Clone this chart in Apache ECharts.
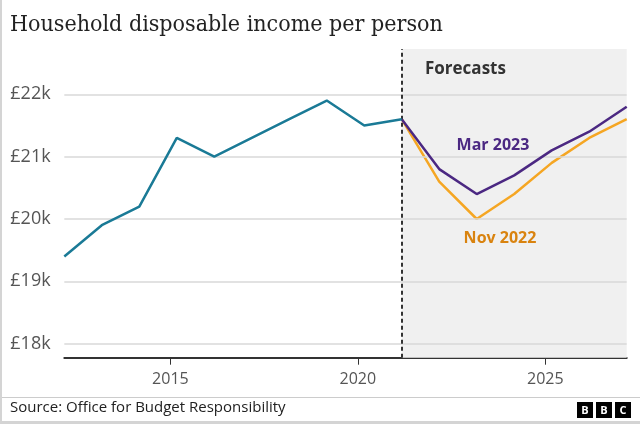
<!DOCTYPE html>
<html>
<head>
<meta charset="utf-8">
<script src="https://cdn.jsdelivr.net/npm/echarts@6/dist/echarts.min.js"></script>
<style>
html,body{margin:0;padding:0;background:#fff;}
#chart{width:640px;height:424px;}
</style>
</head>
<body>
<div id="chart"></div>
<script>
// Data (fiscal-year positions)
var histYears = [2012.17, 2013.17, 2014.17, 2015.17, 2016.17, 2017.17, 2018.17, 2019.17, 2020.17, 2021.17];
var histValues = [19.4, 19.9, 20.2, 21.3, 21.0, 21.3, 21.6, 21.9, 21.5, 21.6];
var fcYears = [2021.17, 2022.17, 2023.17, 2024.17, 2025.17, 2026.17, 2027.17];
var mar2023 = [21.6, 20.8, 20.4, 20.7, 21.1, 21.4, 21.8];
var nov2022 = [21.6, 20.6, 20.0, 20.4, 20.9, 21.3, 21.6];
var xTicks = [2015, 2020, 2025];
var yTicks = [18, 19, 20, 21, 22];
var forecastStart = 2021.17;
var xMin = 2012.17, xMax = 2027.17;
var yMin = 17.776, yMax = 22.726;

function pairs(xs, ys) { return xs.map(function (x, i) { return [x, ys[i]]; }); }

var chart = echarts.init(document.getElementById('chart'), null, {renderer: 'canvas'});
var sans = 'Open Sans';
var option = {
  animation: false,
  backgroundColor: '#ffffff',
  grid: {left: 64.3, right: 13.3, top: 49, bottom: 66.3},
  xAxis: {
    type: 'value', min: xMin, max: xMax,
    axisLine: {show: true, onZero: false, lineStyle: {color: '#333', width: 2}},
    axisTick: {show: true, customValues: xTicks, length: 7, lineStyle: {color: '#333', width: 1}},
    axisLabel: {customValues: xTicks, margin: 14, color: '#555', fontSize: 16, fontFamily: sans,
      formatter: function (v) { return String(v); }},
    splitLine: {show: false}
  },
  yAxis: {
    type: 'value', min: yMin, max: yMax,
    axisLine: {show: false}, axisTick: {show: false},
    axisLabel: {customValues: yTicks, align: 'left', margin: 54, color: '#555', fontSize: 18, fontFamily: sans,
      formatter: function (v) { return '£' + v + 'k'; }},
    splitLine: {show: false}
  },
  series: [
    {
      type: 'line', data: [], z: 1, silent: true,
      markArea: {silent: true, itemStyle: {color: '#f0f0f0'}, data: [[{xAxis: forecastStart}, {xAxis: xMax}]]}
    },
    {
      type: 'line', data: [], z: 2, silent: true,
      markLine: {silent: true, symbol: ['none', 'none'], label: {show: false},
        lineStyle: {color: '#d9d9d9', width: 1.5, type: 'solid'},
        data: yTicks.map(function (v) { return {yAxis: v}; })}
    },
    {
      type: 'line', data: [], z: 3, silent: true,
      markLine: {silent: true, symbol: ['none', 'none'], label: {show: false},
        lineStyle: {color: '#333', width: 2, type: [4, 3]},
        data: [{xAxis: forecastStart}]}
    },
    {
      name: 'Nov 2022', type: 'line', data: pairs(fcYears, nov2022), z: 4,
      showSymbol: false, lineStyle: {color: '#f5a623', width: 2.5}
    },
    {
      name: 'Mar 2023', type: 'line', data: pairs(fcYears, mar2023), z: 5,
      showSymbol: false, lineStyle: {color: '#4b2882', width: 2.5}
    },
    {
      name: 'Actual', type: 'line', data: pairs(histYears, histValues), z: 6,
      showSymbol: false, lineStyle: {color: '#1a7a96', width: 2.5}
    }
  ],
  graphic: [
    {type: 'text', left: 10, top: 14, z: 100, style: {text: 'Household disposable income per person', fill: '#222',
      font: '500 23px "DejaVu Serif Condensed", "Liberation Serif", serif'}},
    {type: 'text', left: 425, top: 61, z: 100, style: {text: 'Forecasts', fill: '#333', font: 'bold 17px "Open Sans"'}},
    {type: 'text', x: 493, y: 145, z: 100, style: {text: 'Mar 2023', fill: '#4b2882', font: 'bold 16px "Open Sans"', align: 'center', verticalAlign: 'middle'}},
    {type: 'text', x: 500, y: 238, z: 100, style: {text: 'Nov 2022', fill: '#d9830f', font: 'bold 16px "Open Sans"', align: 'center', verticalAlign: 'middle'}},
    {type: 'rect', z: 100, shape: {x: 0, y: 397, width: 640, height: 1}, style: {fill: '#cccccc'}},
    {type: 'text', left: 10, top: 400, z: 100, style: {text: 'Source: Office for Budget Responsibility', fill: '#222', font: '15px "Open Sans"'}},
    {type: 'rect', z: 100, shape: {x: 0, y: 0, width: 2, height: 424}, style: {fill: '#d4d4d4'}},
    {type: 'rect', z: 100, shape: {x: 0, y: 421, width: 640, height: 3}, style: {fill: '#d4d4d4'}},
    {type: 'group', left: 577, top: 402, z: 100, children: [
      {type: 'rect', shape: {x: 0, y: 0, width: 16, height: 16}, style: {fill: '#000'}},
      {type: 'text', x: 8, y: 8.5, style: {text: 'B', fill: '#fff', font: 'bold 11px "Open Sans"', align: 'center', verticalAlign: 'middle'}},
      {type: 'rect', shape: {x: 19, y: 0, width: 16, height: 16}, style: {fill: '#000'}},
      {type: 'text', x: 27, y: 8.5, style: {text: 'B', fill: '#fff', font: 'bold 11px "Open Sans"', align: 'center', verticalAlign: 'middle'}},
      {type: 'rect', shape: {x: 38, y: 0, width: 16, height: 16}, style: {fill: '#000'}},
      {type: 'text', x: 46, y: 8.5, style: {text: 'C', fill: '#fff', font: 'bold 11px "Open Sans"', align: 'center', verticalAlign: 'middle'}}
    ]}
  ]
};
chart.setOption(option);
</script>
</body>
</html>
